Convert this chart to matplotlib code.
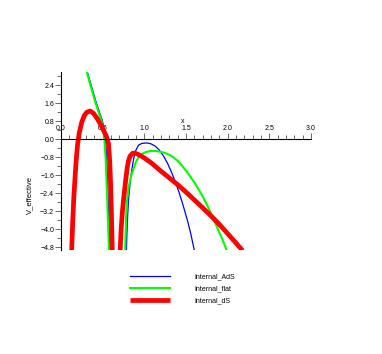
import matplotlib
matplotlib.use('Agg')
import matplotlib.pyplot as plt
from matplotlib.ticker import MultipleLocator, FixedLocator

# Internal_AdS, two branches
ADS_X1 = [0.316, 0.356, 0.416, 0.456, 0.496, 0.515, 0.534, 0.548, 0.557, 0.566, 0.575, 0.585]
ADS_Y1 = [3.0, 2.48, 1.72, 1.26, 0.84, 0.5, 0.02, -0.8, -1.7, -2.7, -3.8, -4.95]
ADS_X2 = [0.785, 0.79, 0.80, 0.81, 0.83, 0.85, 0.87, 0.89, 0.93, 0.97, 1.03, 1.08,
          1.13, 1.18, 1.23, 1.28, 1.33, 1.37, 1.42, 1.47, 1.52, 1.56, 1.60]
ADS_Y2 = [-4.95, -4.3, -3.4, -2.7, -1.9, -1.35, -0.9, -0.55, -0.26, -0.18, -0.16, -0.2,
          -0.3, -0.48, -0.74, -1.08, -1.5, -1.87, -2.4, -3.0, -3.65, -4.25, -4.95]

# Internal_flat
FLAT_X1 = [0.31, 0.35, 0.41, 0.45, 0.49, 0.505, 0.52, 0.535, 0.545, 0.555, 0.565, 0.576]
FLAT_Y1 = [3.0, 2.45, 1.68, 1.22, 0.79, 0.45, 0.0, -0.8, -1.7, -2.7, -3.8, -4.95]
FLAT_X2 = [0.77, 0.775, 0.78, 0.79, 0.81, 0.84, 0.87, 0.90, 0.93, 0.97, 1.02, 1.08,
           1.14, 1.20, 1.25, 1.30, 1.35, 1.40, 1.45, 1.50, 1.55, 1.60, 1.65, 1.70,
           1.75, 1.80, 1.85, 1.90, 1.95, 1.99]
FLAT_Y2 = [-4.95, -4.2, -3.6, -2.8, -2.15, -1.65, -1.3, -1.0, -0.8, -0.65, -0.56, -0.52,
           -0.52, -0.56, -0.61, -0.69, -0.8, -0.96, -1.16, -1.4, -1.65, -1.92, -2.22, -2.55,
           -2.9, -3.3, -3.72, -4.15, -4.58, -4.96]

# Internal_dS
DS_X1 = [0.128, 0.14, 0.155, 0.17, 0.185, 0.20, 0.22, 0.25, 0.28, 0.31, 0.35, 0.39,
         0.43, 0.47, 0.50, 0.53, 0.55, 0.57, 0.585, 0.595, 0.605, 0.615]
DS_Y1 = [-4.95, -3.7, -2.5, -1.6, -0.8, -0.2, 0.3, 0.78, 1.06, 1.21, 1.26, 1.16,
         0.95, 0.7, 0.48, 0.25, 0.08, -0.2, -1.0, -2.0, -3.3, -4.95]
DS_X2 = [0.71, 0.72, 0.735, 0.75, 0.765, 0.78, 0.795, 0.81, 0.83, 0.86, 0.89, 0.92,
         0.96, 1.00, 1.05, 1.10, 1.20, 1.30, 1.40, 1.50, 1.60, 1.70, 1.80, 1.90,
         2.00, 2.10, 2.18]
DS_Y2 = [-4.95, -4.1, -3.3, -2.7, -2.2, -1.7, -1.25, -0.95, -0.74, -0.62, -0.62, -0.66,
         -0.74, -0.83, -0.96, -1.1, -1.42, -1.72, -2.02, -2.35, -2.7, -3.05, -3.41, -3.79,
         -4.2, -4.62, -4.96]

X_TICKS = [0.0, 0.5, 1.0, 1.5, 2.0, 2.5, 3.0]
Y_TICKS = [-4.8, -4.0, -3.2, -2.4, -1.6, -0.8, 0.0, 0.8, 1.6, 2.4]

plt.rcParams['font.family'] = ['Liberation Sans', 'DejaVu Sans']

fig = plt.figure(figsize=(3.82, 3.54), dpi=100)
ax = fig.add_axes([61 / 382, 1 - 250 / 354, 250 / 382, 178 / 354])

ax.plot(ADS_X1, ADS_Y1, color='#0000ff', lw=0.9, label='Internal_AdS')
ax.plot(ADS_X2, ADS_Y2, color='#0000ff', lw=0.9)
ax.plot(FLAT_X1, FLAT_Y1, color='#00ff00', lw=1.5, label='Internal_flat')
ax.plot(FLAT_X2, FLAT_Y2, color='#00ff00', lw=1.5)
ax.plot(DS_X1, DS_Y1, color='#ff0000', lw=3.4, solid_capstyle='butt', label='Internal_dS')
ax.plot(DS_X2, DS_Y2, color='#ff0000', lw=3.4, solid_capstyle='butt')

ax.set_xlim(0, 3.0)
ax.set_ylim(-4.93, 3.0)

for s in ['right', 'bottom']:
    ax.spines[s].set_visible(False)
ax.spines['top'].set_position(('data', 0))
ax.spines['left'].set_position(('data', 0))
ax.spines['top'].set_linewidth(0.8)
ax.spines['left'].set_linewidth(0.8)

ax.xaxis.set_ticks_position('top')
ax.xaxis.set_major_locator(FixedLocator(X_TICKS))
ax.xaxis.set_minor_locator(MultipleLocator(0.1))
ax.set_xticklabels(['%.1f' % v for v in X_TICKS])
ax.yaxis.set_major_locator(FixedLocator(Y_TICKS))
ax.yaxis.set_minor_locator(MultipleLocator(0.4))
ax.set_yticklabels(['%.1f' % v if v >= 0 else '\u2212%.1f' % -v for v in Y_TICKS])

ax.tick_params(which='major', length=4, width=0.6, color='#555555', labelsize=5, pad=1)
ax.tick_params(which='minor', length=3, width=0.6, color='#555555')

ax.text(1.46, 0.8, 'x', fontsize=5, ha='center', va='center')
ax.text(-0.37, -2.5, 'V_effective', fontsize=5.5, rotation=90, ha='center', va='center')

fig.legend(loc='center left', bbox_to_anchor=(0.33, 0.184), frameon=False, fontsize=5,
           handlelength=5.8, handletextpad=3.6, labelspacing=0.75, borderpad=0)

fig.savefig('out.png', dpi=100)
